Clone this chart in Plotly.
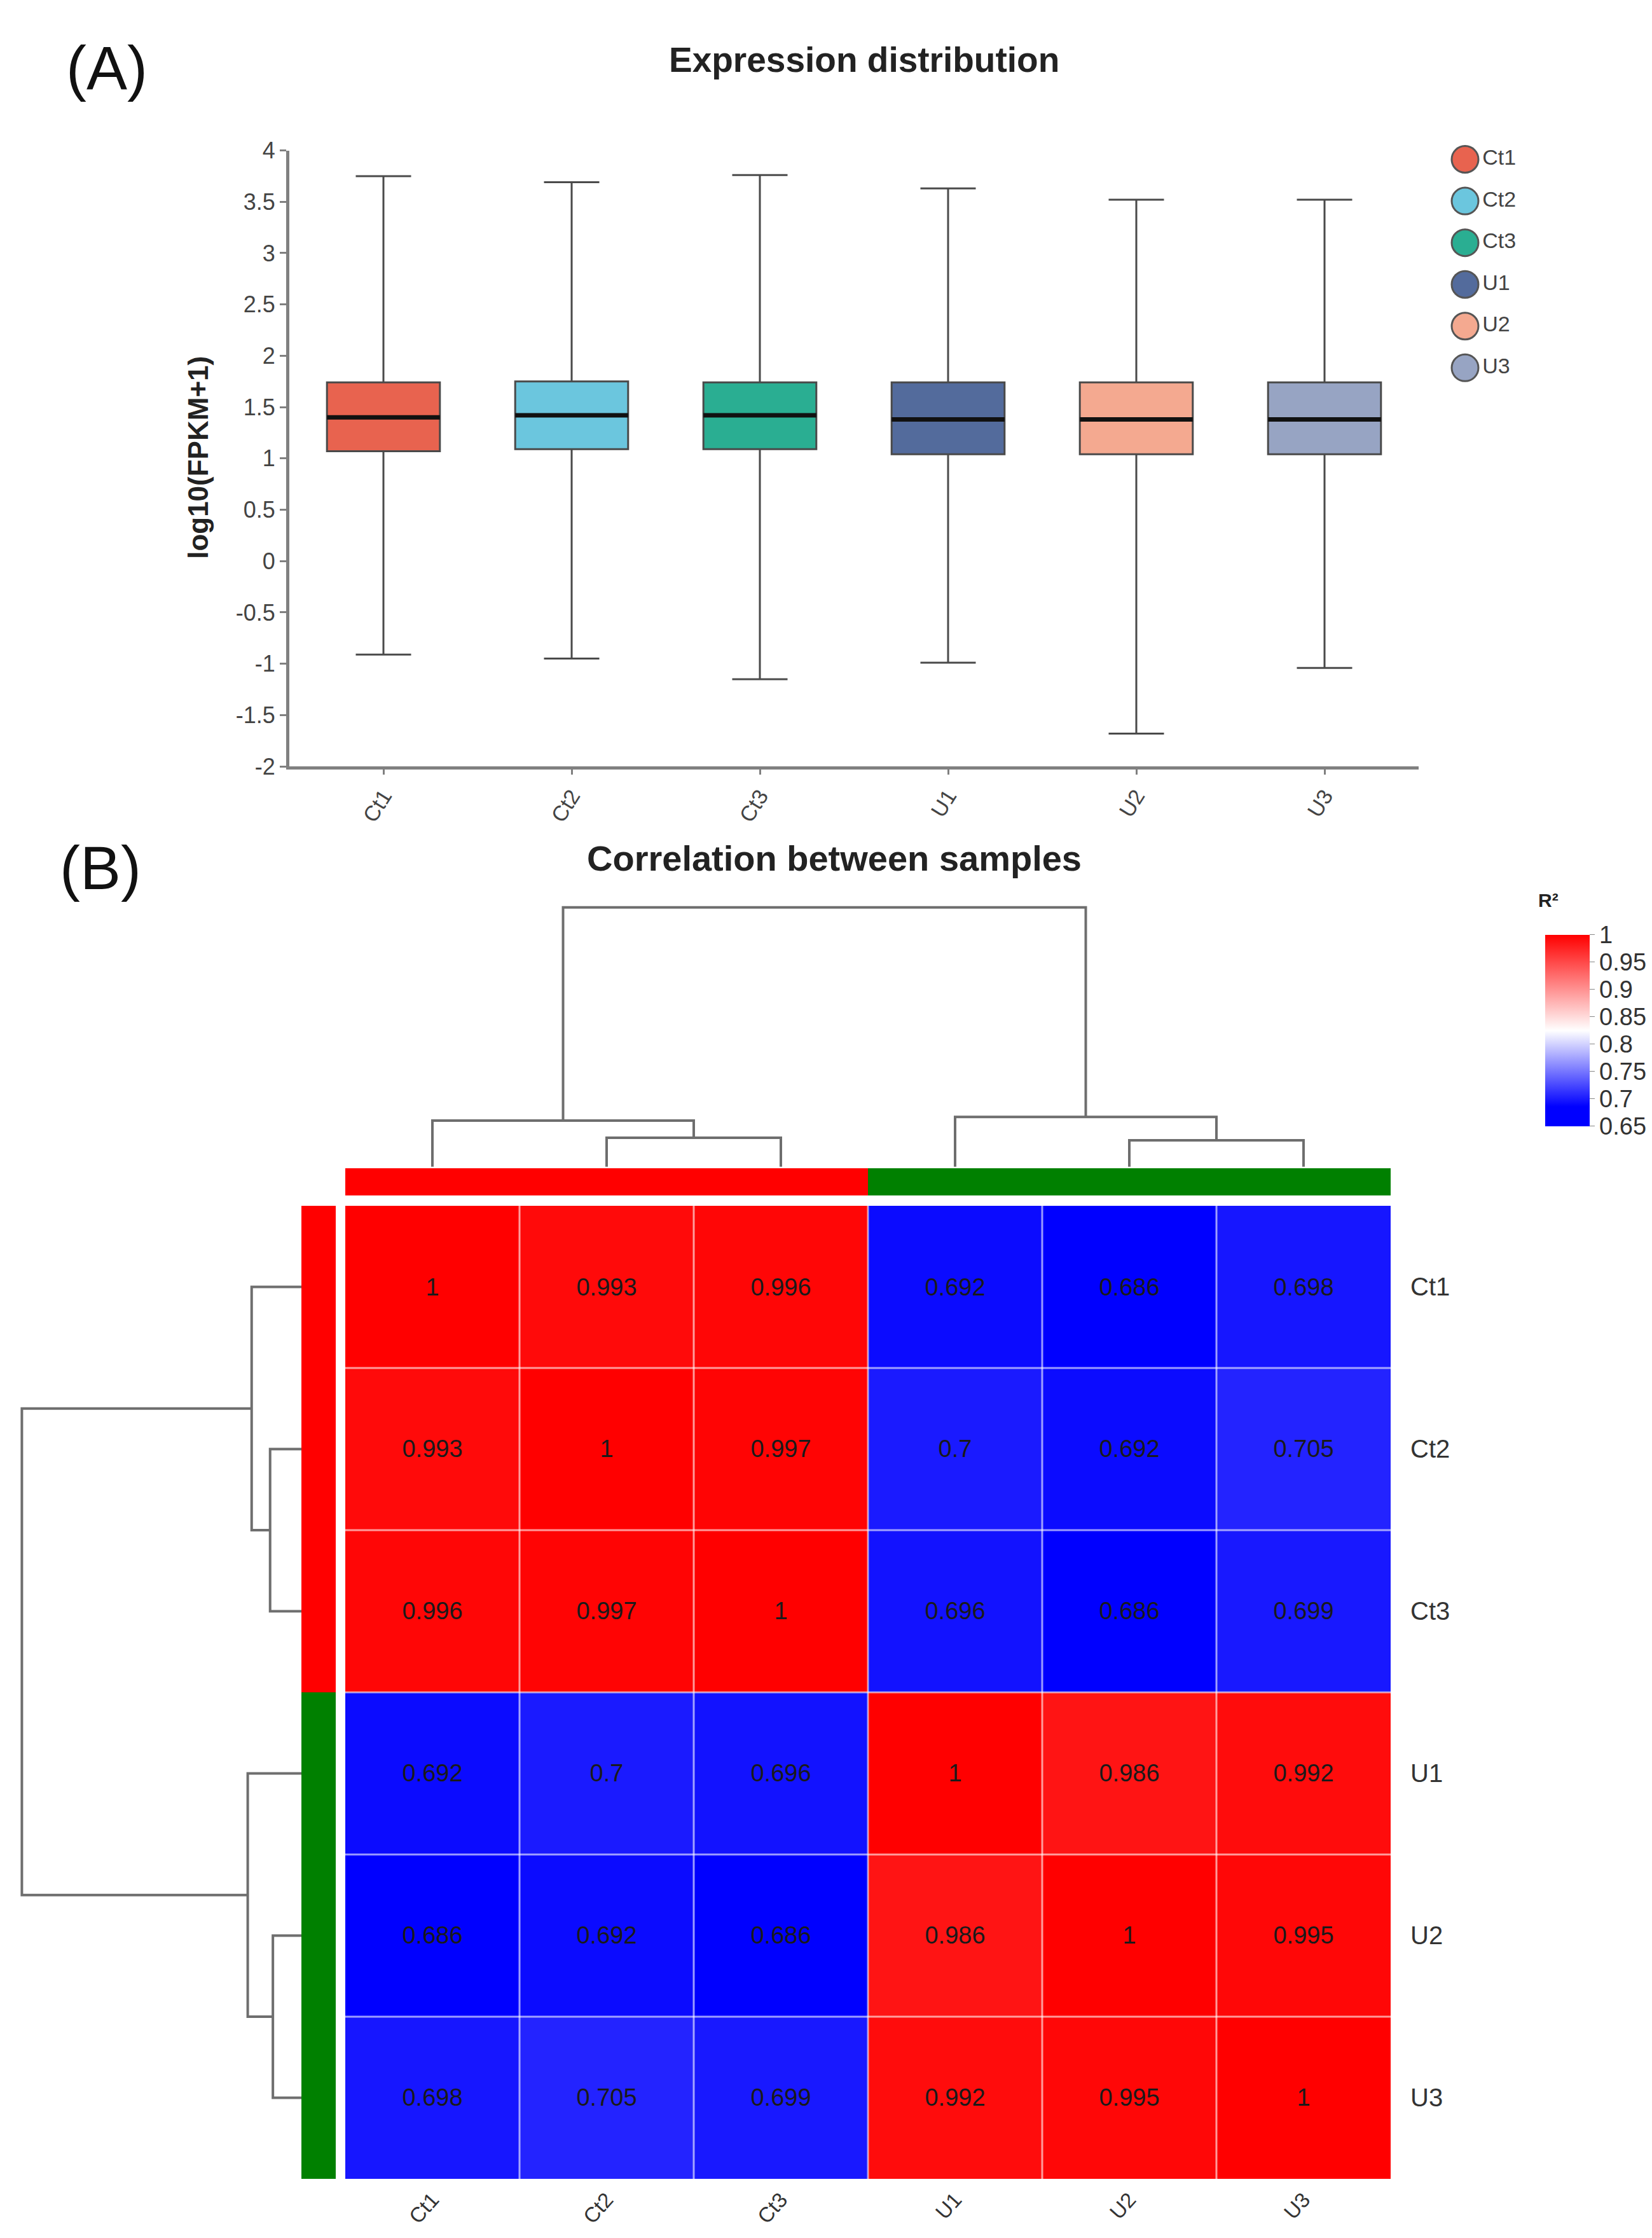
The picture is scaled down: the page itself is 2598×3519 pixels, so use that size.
import plotly.graph_objects as go

#############################################
########## 1. Data
#############################################
W, H = 2598, 3519
FONT = "Liberation Sans"

##### Panel A: expression distribution #####
samples = ["Ct1", "Ct2", "Ct3", "U1", "U2", "U3"]
box_colors = ["#E8634F", "#6BC6DE", "#2AAE92", "#536B9C", "#F4A990", "#97A4C3"]
upper_whisker = [3.75, 3.69, 3.76, 3.63, 3.52, 3.52]
q3 = [1.74, 1.75, 1.74, 1.74, 1.74, 1.74]
median = [1.40, 1.42, 1.42, 1.38, 1.38, 1.38]
q1 = [1.07, 1.09, 1.09, 1.04, 1.04, 1.04]
lower_whisker = [-0.91, -0.95, -1.15, -0.99, -1.68, -1.04]
y_ticks = [-2, -1.5, -1, -0.5, 0, 0.5, 1, 1.5, 2, 2.5, 3, 3.5, 4]

##### Panel B: correlation heatmap #####
groups = ["Ct", "Ct", "Ct", "U", "U", "U"]
group_colors = ["#FF0000", "#008000"]
r2 = [
	[1, 0.993, 0.996, 0.692, 0.686, 0.698],
	[0.993, 1, 0.997, 0.7, 0.692, 0.705],
	[0.996, 0.997, 1, 0.696, 0.686, 0.699],
	[0.692, 0.7, 0.696, 1, 0.986, 0.992],
	[0.686, 0.692, 0.686, 0.986, 1, 0.995],
	[0.698, 0.705, 0.699, 0.992, 0.995, 1],
]
cbar_ticks = [0.65, 0.7, 0.75, 0.8, 0.85, 0.9, 0.95, 1]
# dendrogram merges: (child a, child b, height); leaves 0..5, new nodes numbered from 6
merges = [(1, 2, 1.12), (4, 5, 1.02), (0, 6, 1.78), (3, 7, 1.92), (8, 9, 10.0)]

#############################################
########## 2. Helpers
#############################################
def dom_x(p0, p1):
	return [p0 / W, p1 / W]

def dom_y(top, bottom):
	return [1 - bottom / H, 1 - top / H]

def dendro_lines(merges, n):
	pos = {i: float(i) for i in range(n)}
	hgt = {i: 0.0 for i in range(n)}
	xs, ys = [], []
	for k, (a, b, h) in enumerate(merges):
		xs += [pos[a], pos[a], pos[b], pos[b], None]
		ys += [hgt[a], h, h, hgt[b], None]
		pos[n + k] = (pos[a] + pos[b]) / 2
		hgt[n + k] = h
	return xs, ys

n = len(samples)
idx = list(range(n))
root_h = max(m[2] for m in merges)

#############################################
########## 3. Traces
#############################################
fig = go.Figure()

# Boxes
for i, s in enumerate(samples):
	fig.add_trace(go.Box(x=[i], q1=[q1[i]], median=[median[i]], q3=[q3[i]],
						 lowerfence=[lower_whisker[i]], upperfence=[upper_whisker[i]],
						 width=0.6, whiskerwidth=0.49, fillcolor=box_colors[i],
						 line=dict(color="#4a4a4a", width=3), boxpoints=False, name=s,
						 xaxis="x", yaxis="y"))
	fig.add_trace(go.Scatter(x=[i - 0.3, i + 0.3], y=[median[i], median[i]], mode="lines",
							 line=dict(color="#111111", width=7), xaxis="x", yaxis="y"))

# Legend (circles)
fig.add_trace(go.Scatter(x=[0] * n, y=idx, mode="markers+text", text=samples,
						 textposition="middle right",
						 textfont=dict(size=34, color="#444444", family=FONT),
						 marker=dict(size=42, color=box_colors, line=dict(color="#555555", width=3)),
						 cliponaxis=False, xaxis="x2", yaxis="y2"))

# Heatmap: solid blue up to the lowest value, white at the bar midpoint, red at 1
lo = min(min(row) for row in r2)
zmin, zmax = cbar_ticks[0], cbar_ticks[-1]
colorscale = [[0, "#0000FF"], [(lo - zmin) / (zmax - zmin), "#0000FF"],
			  [0.5, "#FFFFFF"], [1, "#FF0000"]]
fig.add_trace(go.Heatmap(z=r2, x=idx, y=idx, zmin=zmin, zmax=zmax, colorscale=colorscale,
						 texttemplate="%{z}", textfont=dict(size=38, color="#1a1a1a", family=FONT),
						 colorbar=dict(x=2422 / W, xanchor="left", y=1 - 1611 / H, yanchor="middle",
									   len=301, lenmode="pixels", thickness=70, outlinewidth=0,
									   xpad=0, ypad=0,
									   tickvals=cbar_ticks, ticktext=[f"{v:g}" for v in cbar_ticks],
									   ticks="outside", ticklen=8, tickcolor="#888888",
									   tickfont=dict(size=38, color="#333333", family=FONT)),
						 xaxis="x3", yaxis="y3"))

# Group annotation bars
group_codes = [sorted(set(groups)).index(g) for g in groups]
group_scale = [[0, group_colors[0]], [1, group_colors[1]]]
fig.add_trace(go.Heatmap(z=[group_codes], x=idx, y=[0], colorscale=group_scale, showscale=False,
						 xaxis="x4", yaxis="y4"))
fig.add_trace(go.Heatmap(z=[[c] for c in group_codes], x=[0], y=idx, colorscale=group_scale,
						 showscale=False, xaxis="x5", yaxis="y5"))

# Dendrograms
dx, dy = dendro_lines(merges, n)
fig.add_trace(go.Scatter(x=dx, y=dy, mode="lines", line=dict(color="#6e6e6e", width=4),
						 xaxis="x6", yaxis="y6"))
fig.add_trace(go.Scatter(x=dy, y=dx, mode="lines", line=dict(color="#6e6e6e", width=4),
						 xaxis="x7", yaxis="y7"))

#############################################
########## 4. Layout
#############################################
hidden = dict(visible=False, showgrid=False, zeroline=False)
hm_x = dom_x(535, 2179)
hm_y = dom_y(1890, 3438)

grid = []
for k in range(1, n):
	grid.append(dict(type="line", xref="x3", yref="y3", x0=k - 0.5, x1=k - 0.5, y0=-0.5, y1=n - 0.5,
					 line=dict(color="rgba(255,255,255,0.6)", width=3)))
	grid.append(dict(type="line", xref="x3", yref="y3", x0=-0.5, x1=n - 0.5, y0=k - 0.5, y1=k - 0.5,
					 line=dict(color="rgba(255,255,255,0.6)", width=3)))

annotations = [
	dict(text="(A)", x=160 / W, y=1 - 79 / H, font=dict(size=96, color="#111111")),
	dict(text="<b>Expression distribution</b>", x=1351 / W, y=1 - 67 / H,
		 font=dict(size=55, color="#222222")),
	dict(text="<b>log10(FPKM+1)</b>", x=304 / W, y=1 - 700 / H, textangle=-90,
		 font=dict(size=44, color="#222222")),
	dict(text="(B)", x=150 / W, y=1 - 1352 / H, font=dict(size=96, color="#111111")),
	dict(text="<b>Correlation between samples</b>", x=1304 / W, y=1 - 1337 / H,
		 font=dict(size=56, color="#222222")),
	dict(text="<b>R²</b>", x=2427 / W, y=1 - 1404 / H, font=dict(size=30, color="#222222")),
]
for a in annotations:
	a.update(xref="paper", yref="paper", showarrow=False, xanchor="center", yanchor="middle")

fig.update_layout(
	width=W, height=H, margin=dict(l=0, r=0, t=0, b=0),
	paper_bgcolor="white", plot_bgcolor="white", showlegend=False,
	font=dict(family=FONT, color="#333333"),
	xaxis=dict(domain=dom_x(447, 2223), range=[-0.5, n - 0.5], tickvals=idx, ticktext=samples,
			   tickangle=-58, ticks="outside", ticklen=8, tickwidth=3, tickcolor="#808080",
			   showline=True, linecolor="#808080", linewidth=5, showgrid=False, zeroline=False,
			   tickfont=dict(size=34, color="#444444"), anchor="y"),
	yaxis=dict(domain=dom_y(211, 1191), range=[-2, 4], tickvals=y_ticks,
			   ticktext=[f"{v:g}" for v in y_ticks], ticks="outside", ticklen=10, tickwidth=3,
			   tickcolor="#808080", showline=True, linecolor="#808080", linewidth=5,
			   showgrid=False, zeroline=False, tickfont=dict(size=36, color="#444444"), anchor="x"),
	xaxis2=dict(domain=dom_x(2256, 2496), range=[-1, 5], anchor="y2", **hidden),
	yaxis2=dict(domain=dom_y(192, 590), range=[n - 0.5, -0.5], anchor="x2", **hidden),
	xaxis3=dict(domain=hm_x, range=[-0.5, n - 0.5], tickvals=idx, ticktext=samples, tickangle=-48,
				ticks="", showgrid=False, zeroline=False, showline=False, ticklabelstandoff=6,
				tickfont=dict(size=33, color="#333333"), anchor="y3"),
	yaxis3=dict(domain=hm_y, range=[n - 0.5, -0.5], tickvals=idx, ticktext=samples, side="right",
				ticks="", showgrid=False, zeroline=False, showline=False, ticklabelstandoff=30,
				tickfont=dict(size=40, color="#333333"), anchor="x3"),
	xaxis4=dict(domain=hm_x, range=[-0.5, n - 0.5], anchor="y4", **hidden),
	yaxis4=dict(domain=dom_y(1830, 1874), range=[-0.5, 0.5], anchor="x4", **hidden),
	xaxis5=dict(domain=dom_x(466, 520), range=[-0.5, 0.5], anchor="y5", **hidden),
	yaxis5=dict(domain=hm_y, range=[n - 0.5, -0.5], anchor="x5", **hidden),
	xaxis6=dict(domain=hm_x, range=[-0.5, n - 0.5], anchor="y6", **hidden),
	yaxis6=dict(domain=dom_y(1411, 1828), range=[0, root_h * 1.01], anchor="x6", **hidden),
	xaxis7=dict(domain=dom_x(22, 466), range=[root_h * 1.01, 0], anchor="y7", **hidden),
	yaxis7=dict(domain=hm_y, range=[n - 0.5, -0.5], anchor="x7", **hidden),
	shapes=grid,
	annotations=annotations,
)

fig.write_html("out.html")
